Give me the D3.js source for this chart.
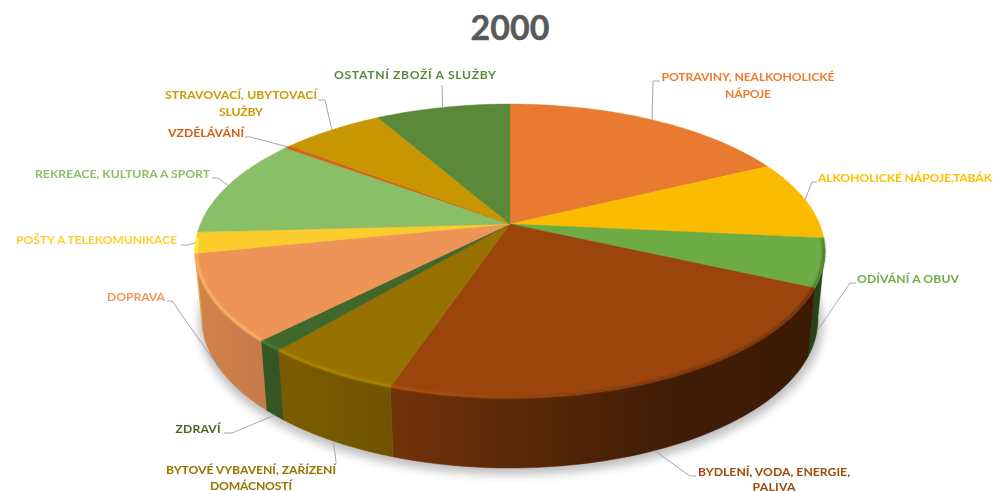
<!DOCTYPE html>
<html><head><meta charset="utf-8">
<script src="https://cdn.jsdelivr.net/npm/d3@7"></script>
<style>html,body{margin:0;background:#fff}svg{display:block}text{font-family:Lato,sans-serif;font-weight:700}</style>
</head><body><svg id="c" width="994" height="491"></svg>
<script>
const title = "2000";
const categories = [
  ["POTRAVINY, NEALKOHOLICKÉ","NÁPOJE"],["ALKOHOLICKÉ NÁPOJE,TABÁK"],["ODÍVÁNÍ A OBUV"],
  ["BYDLENÍ, VODA, ENERGIE,","PALIVA"],["BYTOVÉ VYBAVENÍ, ZAŘÍZENÍ","DOMÁCNOSTÍ"],["ZDRAVÍ"],
  ["DOPRAVA"],["POŠTY A TELEKOMUNIKACE"],["REKREACE, KULTURA A SPORT"],["VZDĚLÁVÁNÍ"],
  ["STRAVOVACÍ, UBYTOVACÍ","SLUŽBY"],["OSTATNÍ ZBOŽÍ A SLUŽBY"]];
const values = [17.8,8.75,5.3,23.35,5.95,1.2,9.5,2.3,11.0,0.4,6.25,8.25];
const faceColors = ["#E97B31","#FBBC00","#6DAB45","#9B450D","#967100","#41672A","#EE9457","#FCCB2C","#89BF66","#D5631A","#C89600","#5A8939"];
const textColors = ["#ED7D31","#FFC000","#70AD47","#9E480E","#997300","#43682B","#F1975A","#FFCD33","#8CC168","#D26012","#CC9A00","#5A8A39"];
// label layout: centre x, first-line centre y, line widths, leader elbow & end points
const labelLayout = [
 {x:748,y:77,w:[173,46],el:[[653,81],[660,81]]},
 {x:905,y:178,w:[174],el:[[812,182],[817,182]]},
 {x:908,y:279,w:[102],el:[[850,283],[856,283]]},
 {x:774,y:472,w:[152,43],el:[[690,476],[696,476]]},
 {x:251,y:470,w:[170,82],el:[[336,462]]},
 {x:198,y:429,w:[45],el:[[232,433],[224,433]]},
 {x:136,y:297,w:[58],el:[[172,301],[167,301]]},
 {x:96.5,y:240,w:[161],el:[[188,245],[181,245]]},
 {x:122.5,y:174,w:[175],el:[[218,178],[212,178]]},
 {x:206,y:133,w:[76],el:[[250,137],[245,137]]},
 {x:241,y:95,w:[152,44],el:[[325,100],[318,100]]},
 {x:415,y:75,w:[162],el:[[442,85]]}];
const wallSlices = new Set([2,3,4,5,6]);

const svg = d3.select("#c"), defs = svg.append("defs");
const ax=510, ay=224, p=0.1837, b=142.04, k=309.6;
const top0={cx:510,cy:251,rx:315,ry:147}, bot0={cx:510,cy:319,rx:308,ry:149};
// projective map of the true circle angle to the tilted face
const proj = (t,r=1)=>{const u=r*Math.sin(t), v=-r*Math.cos(t), w=1-p*v; return [ax+k*u/w, ay+b*v/w];};
const phi = t=>{const q=proj(t); return Math.atan2((q[0]-top0.cx)/top0.rx,-(q[1]-top0.cy)/top0.ry);}; // 0 = back, clockwise
const norm = a=>(a<0?a+2*Math.PI:a);
const onE = (e,f)=>[e.cx+e.rx*Math.sin(f), e.cy-e.ry*Math.cos(f)];
const line = d3.line();
const pie = d3.pie().sort(null)(values);
const samples=(a,b,n)=>d3.range(n+1).map(i=>a+(b-a)*i/n);

// filters
let f=defs.append("filter").attr("id","sh").attr("x","-20%").attr("y","-20%").attr("width","140%").attr("height","140%");
f.append("feGaussianBlur").attr("stdDeviation",5);
f=defs.append("filter").attr("id","bev").attr("x","-5%").attr("y","-5%").attr("width","110%").attr("height","110%");
f.append("feGaussianBlur").attr("stdDeviation",0.8);
f=defs.append("filter").attr("id","soft").attr("x","-5%").attr("y","-30%").attr("width","110%").attr("height","160%");
f.append("feGaussianBlur").attr("stdDeviation",0.3);

// soft shadow
svg.append("ellipse").attr("cx",511).attr("cy",323).attr("rx",312).attr("ry",152)
   .attr("fill","#000").attr("opacity",.25).attr("filter","url(#sh)");

// walls
const wallG=svg.append("g");
const wallShade=d3.scaleLinear().domain([200,390,520,660,820]).range([.88,.74,.58,.42,.38]);
pie.forEach((d,i)=>{
  const fr=samples(d.startAngle,d.endAngle,60).map(t=>norm(phi(t))).filter(a=>a>=Math.PI/2-.02&&a<=Math.PI*1.5+.02);
  if(fr.length<2) return;
  const g=defs.append("linearGradient").attr("id","w"+i).attr("gradientUnits","userSpaceOnUse")
    .attr("x1",190).attr("x2",830).attr("y1",0).attr("y2",0);
  const base=d3.rgb(faceColors[i]);
  d3.range(0,21).forEach(j=>{const x=190+640*j/20, s=wallShade(x);
    g.append("stop").attr("offset",j/20).attr("stop-color",d3.rgb(base.r*s,base.g*s,base.b*s).formatHex());});
  const pts=fr.map(a=>onE(top0,a)).concat(fr.slice().reverse().map(a=>onE(bot0,a)));
  wallG.append("path").attr("d",line(pts)+"Z").attr("fill",`url(#w${i})`).attr("stroke",`url(#w${i})`).attr("stroke-width",.5);
});

// top faces
svg.append("g").selectAll("path").data(pie).join("path")
  .attr("d",d=>line([[ax,ay],...samples(d.startAngle,d.endAngle,Math.max(4,Math.ceil((d.endAngle-d.startAngle)*50))).map(t=>proj(t))])+"Z")
  .attr("fill",(d,i)=>faceColors[i]).attr("stroke",(d,i)=>faceColors[i]).attr("stroke-width",.4);

// bevel along the front rim
const bevG=svg.append("g").attr("filter","url(#bev)");
const bevTone=d3.scaleLinear().domain([190,390,520,640,830]).range([.45,.35,0,-.5,-.9]);
pie.forEach((d,i)=>{
  const pts=samples(d.startAngle,d.endAngle,60).filter(t=>{const a=norm(phi(t));return a>=Math.PI*.47&&a<=Math.PI*1.53;}).map(t=>proj(t,.996));
  if(pts.length<2) return;
  const g=defs.append("linearGradient").attr("id","b"+i).attr("gradientUnits","userSpaceOnUse")
    .attr("x1",190).attr("x2",830).attr("y1",0).attr("y2",0);
  d3.range(0,21).forEach(j=>{const x=190+640*j/20,s=bevTone(x),c=d3.rgb(faceColors[i]);
    g.append("stop").attr("offset",j/20).attr("stop-color",(s>0?c.brighter(s*1.4):c.darker(-s*1.4)).formatHex());});
  bevG.append("path").attr("d",line(pts)).attr("fill","none").attr("stroke",`url(#b${i})`).attr("stroke-width",2.2);
});

// leaders
svg.append("g").selectAll("path").data(pie).join("path")
  .attr("d",(d,i)=>{
    const t=(d.startAngle+d.endAngle)/2;
    const s=wallSlices.has(i)?onE(bot0,norm(phi(t))):proj(t);
    return line([s,...labelLayout[i].el]);})
  .attr("fill","none").attr("stroke","#A6A6A6").attr("stroke-width",1);

// labels
const lab=svg.append("g").attr("font-size",12.2).attr("text-anchor","middle").attr("filter","url(#soft)");
categories.forEach((ls,i)=>{
  ls.forEach((s,j)=>lab.append("text").attr("x",labelLayout[i].x).attr("y",labelLayout[i].y+j*(i===3?15:i===4?15.5:17))
    .attr("dy","0.36em").attr("fill",textColors[i])
    .attr("textLength",labelLayout[i].w[j]).attr("lengthAdjust","spacing").text(s));
});

svg.append("text").attr("x",510).attr("y",28).attr("dy","0.36em").attr("text-anchor","middle")
   .attr("font-size",34).attr("fill","#595959").attr("stroke","#595959").attr("stroke-width",.4).text(title);
</script></body></html>
